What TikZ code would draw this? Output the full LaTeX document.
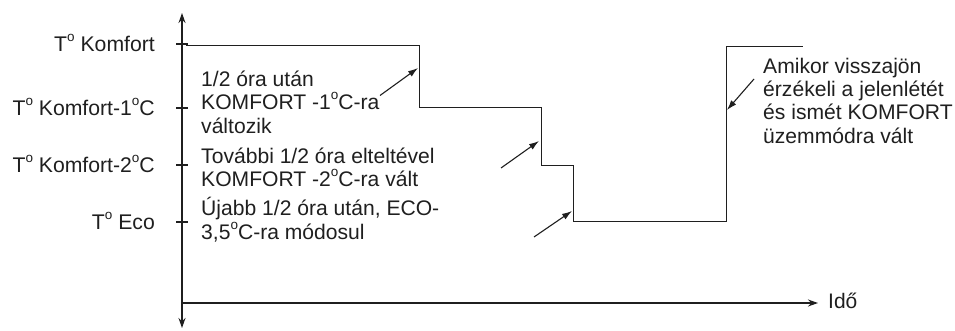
\documentclass[tikz,border=0pt]{standalone}
\usepackage{fontspec}
\setmainfont{Liberation Sans}
\usetikzlibrary{arrows.meta}
\newcommand\supO{\raisebox{10.2pt}{\fontsize{13.5}{13.5}\selectfont o}}
\begin{document}
\begin{tikzpicture}[x=1pt,y=-1pt,
  ink/.style={color=black!88},
  axisline/.style={ink,line width=1.4pt},
  stepline/.style={ink,line width=0.9pt},
  pointer/.style={ink,line width=1.1pt,-{Latex[length=10pt,width=6.5pt]}},
  levellabel/.style={ink,font=\fontsize{21.2}{23.4}\selectfont,anchor=base east,inner sep=0pt},
  note/.style={ink,font=\fontsize{21.1}{23.4}\selectfont,align=left,anchor=base west,inner sep=0pt}]
\useasboundingbox (0,0) rectangle (955,331);
% axes
\coordinate (ybot) at (182,328);
\coordinate (ytop) at (182,13);
\coordinate (xorig) at (182,303);
\coordinate (xend) at (818,303);
\draw[axisline,{Stealth[length=10pt,width=7pt]}-{Stealth[length=10pt,width=7pt]}] (ybot) -- (ytop);
\draw[axisline,-{Stealth[length=10pt,width=7pt]}] (xorig) -- (xend);
\node[ink,font=\fontsize{21}{23.4}\selectfont,anchor=base west,inner sep=0pt] (ido) at (828,308.3) {Idő};
% ticks and level labels
\foreach \yy/\nm/\txt in {44/lk/{T\supO{} Komfort},108/lk1/{T\supO{} Komfort-1\supO C},165/lk2/{T\supO{} Komfort-2\supO C},222/leco/{T\supO{} Eco}}{
  \draw[axisline,line width=1.1pt] (176,\yy) -- (188,\yy);
  \node[levellabel] (\nm) at (155,\yy+7.3) {\txt};
}
% temperature curve
\draw[stepline] (186,45.5) -- (419,45.5) -- (419,107) -- (541,107) -- (541,165) -- (573,165) -- (573,221) -- (726,221) -- (726,46) -- (803,46);
% notes (anchored at the baseline of their last line)
\node[note] (n1) at (201,133.3) {1/2 óra után\\KOMFORT -1\supO C-ra\\változik};
\node[note] (n2) at (201,186.7) {További 1/2 óra elteltével\\KOMFORT -2\supO C-ra vált};
\node[note] (n3) at (201,239.3) {Újabb 1/2 óra után, ECO-\\3,5\supO C-ra módosul};
\node[note] (n4) at (763,143.3) {Amikor visszajön\\érzékeli a jelenlétét\\és ismét KOMFORT\\üzemmódra vált};
% pointers
\coordinate (a1s) at (380,95.5);
\coordinate (a1e) at (418,68);
\coordinate (a2s) at (501,168);
\coordinate (a2e) at (539,141);
\coordinate (a3s) at (534,237);
\coordinate (a3e) at (572,211);
\coordinate (a4s) at (754,79);
\coordinate (a4e) at (727,110);
\draw[pointer] (a1s) -- (a1e);
\draw[pointer] (a2s) -- (a2e);
\draw[pointer] (a3s) -- (a3e);
\draw[pointer] (a4s) -- (a4e);
\end{tikzpicture}
\end{document}
